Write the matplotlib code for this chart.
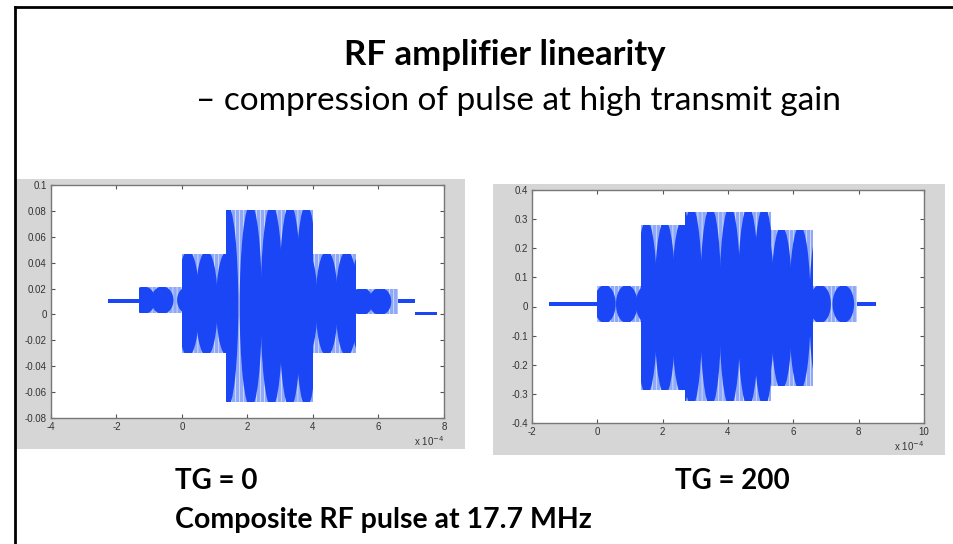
import matplotlib
matplotlib.use("Agg")
import matplotlib.pyplot as plt
from matplotlib.patches import Rectangle, Ellipse

# --- Data (time in units of 1e-4 s) ---
# TG = 0 pulse: composite envelope segments
tg0_seg_start = [-1.31, 0.00, 1.34, 4.00, 5.32]
tg0_seg_end = [0.00, 1.34, 4.00, 5.32, 6.61]
tg0_seg_top = [0.021, 0.047, 0.081, 0.047, 0.020]
tg0_seg_bottom = [0.001, -0.030, -0.068, -0.030, 0.000]
tg0_lobes = [-1.16, -0.60, 0.19, 0.75, 1.38, 2.10, 2.74, 3.30, 3.80, 4.42, 5.03, 5.49, 6.05]
# baseline noise before / after the pulse
tg0_noise_start = [-2.25, 6.61, 7.11]
tg0_noise_end = [-1.31, 7.11, 7.78]
tg0_noise_level = [0.0102, 0.0105, 0.0005]
tg0_noise_half = [0.0015, 0.0015, 0.0013]

# TG = 200 pulse
tg200_seg_start = [0.00, 1.33, 2.68, 5.31, 6.61]
tg200_seg_end = [1.33, 2.68, 5.31, 6.61, 7.94]
tg200_seg_top = [0.070, 0.280, 0.326, 0.262, 0.070]
tg200_seg_bottom = [-0.053, -0.287, -0.326, -0.272, -0.053]
tg200_lobes = [0.23, 0.90, 1.51, 2.07, 2.60, 2.89, 3.47, 4.06, 4.62, 5.10, 5.64, 6.20, 6.82, 7.53]
tg200_noise_start = [-1.48, 7.94]
tg200_noise_end = [0.00, 8.52]
tg200_noise_level = [0.010, 0.008]
tg200_noise_half = [0.007, 0.007]

tg0_xticks = [-4, -2, 0, 2, 4, 6, 8]
tg0_yticks = [-0.08, -0.06, -0.04, -0.02, 0, 0.02, 0.04, 0.06, 0.08, 0.1]
tg0_ylabels = ['-0.08', '-0.06', '-0.04', '-0.02', '0', '0.02', '0.04', '0.06', '0.08', '0.1']
tg200_xticks = [-2, 0, 2, 4, 6, 8, 10]
tg200_yticks = [-0.4, -0.3, -0.2, -0.1, 0, 0.1, 0.2, 0.3, 0.4]
tg200_ylabels = ['-0.4', '-0.3', '-0.2', '-0.1', '0', '0.1', '0.2', '0.3', '0.4']

DARK = '#1b46f5'
LIGHT = '#8fa8f7'
GRAY_BG = '#d6d6d6'
W, H = 954, 544


def px_box(left, top, right, bottom):
    """pixel box -> figure fraction rect"""
    return [left / W, 1 - bottom / H, (right - left) / W, (bottom - top) / H]


def draw_pulse(ax, starts, ends, tops, bottoms, lobes, lobe_w,
               n_start, n_end, n_level, n_half):
    for s, e, t, b in zip(starts, ends, tops, bottoms):
        # light striped background of the envelope
        ax.fill_between([s, e], [b, b], [t, t], facecolor=LIGHT,
                        edgecolor='#eef2fe', hatch='||||', linewidth=0, zorder=2)
        clip = Rectangle((s, b), e - s, t - b, transform=ax.transData)
        mid = (t + b) / 2
        for c in lobes:
            if c + lobe_w / 2 < s or c - lobe_w / 2 > e:
                continue
            el = Ellipse((c, mid), lobe_w, (t - b) * 1.06, facecolor=DARK,
                         edgecolor='none', zorder=3)
            ax.add_patch(el)
            el.set_clip_path(clip)
    for s, e, lv, hw in zip(n_start, n_end, n_level, n_half):
        ax.fill_between([s, e], [lv - hw] * 2, [lv + hw] * 2,
                        facecolor=DARK, linewidth=0, zorder=3)


def style_axes(ax, xlim, ylim, xticks, yticks, ylabels):
    ax.set_xlim(*xlim)
    ax.set_ylim(*ylim)
    ax.set_xticks(xticks)
    ax.set_xticklabels([str(v) for v in xticks])
    ax.set_yticks(yticks)
    ax.set_yticklabels(ylabels)
    ax.tick_params(direction='in', length=3, width=0.8, colors='#555555',
                   labelcolor='#333333', labelsize=7, top=True, right=True, pad=3)
    for sp in ax.spines.values():
        sp.set_color('#777777')
        sp.set_linewidth(1.0)
    ax.text(1.0, -0.1, r'x 10$^{-4}$', transform=ax.transAxes, ha='right',
            va='center', fontsize=7, color='#333333')


plt.rcParams['font.family'] = ['Liberation Sans', 'DejaVu Sans']
plt.rcParams['hatch.linewidth'] = 0.45

fig = plt.figure(figsize=(9.54, 5.44), dpi=100)
fig.patch.set_facecolor('white')

# gray matlab figure panels (behind the axes)
fig.patches.append(Rectangle((16 / W, 1 - 449 / H), (465 - 16) / W, (449 - 179) / H,
                             transform=fig.transFigure, facecolor=GRAY_BG,
                             edgecolor='none', zorder=-5))
fig.patches.append(Rectangle((493 / W, 1 - 455 / H), (945 - 493) / W, (455 - 184) / H,
                             transform=fig.transFigure, facecolor=GRAY_BG,
                             edgecolor='none', zorder=-5))

# slide frame (top and left edge)
fig.add_artist(plt.Line2D([15 / W, 1.0], [1 - 7 / H, 1 - 7 / H], color='black',
                          linewidth=2, transform=fig.transFigure))
fig.add_artist(plt.Line2D([15 / W, 15 / W], [0, 1 - 7 / H], color='black',
                          linewidth=2, transform=fig.transFigure))

ax1 = fig.add_axes(px_box(51, 185, 444, 418))
draw_pulse(ax1, tg0_seg_start, tg0_seg_end, tg0_seg_top, tg0_seg_bottom,
           tg0_lobes, 0.68, tg0_noise_start, tg0_noise_end, tg0_noise_level, tg0_noise_half)
style_axes(ax1, (-4, 8), (-0.08, 0.1), tg0_xticks, tg0_yticks, tg0_ylabels)

ax2 = fig.add_axes(px_box(532, 190, 924, 423))
draw_pulse(ax2, tg200_seg_start, tg200_seg_end, tg200_seg_top, tg200_seg_bottom,
           tg200_lobes, 0.66, tg200_noise_start, tg200_noise_end, tg200_noise_level,
           tg200_noise_half)
style_axes(ax2, (-2, 10), (-0.4, 0.4), tg200_xticks, tg200_yticks, tg200_ylabels)

# slide text
slide_font = ['Lato', 'DejaVu Sans']
fig.text(505 / W, 1 - 55 / H, 'RF amplifier linearity', ha='center', va='center',
         fontsize=25, fontweight='bold', family=slide_font)
fig.text(518 / W, 1 - 101 / H, '\u2013 compression of pulse at high transmit gain',
         ha='center', va='center', fontsize=24, family=slide_font)
fig.text(175 / W, 1 - 481 / H, 'TG = 0', ha='left', va='center', fontsize=20,
         fontweight='bold', family=slide_font)
fig.text(675 / W, 1 - 481 / H, 'TG = 200', ha='left', va='center', fontsize=20,
         fontweight='bold', family=slide_font)
fig.text(175 / W, 1 - 520 / H, 'Composite RF pulse at 17.7 MHz', ha='left',
         va='center', fontsize=20.5, fontweight='bold', family=slide_font)

fig.savefig('out.png', dpi=100)
